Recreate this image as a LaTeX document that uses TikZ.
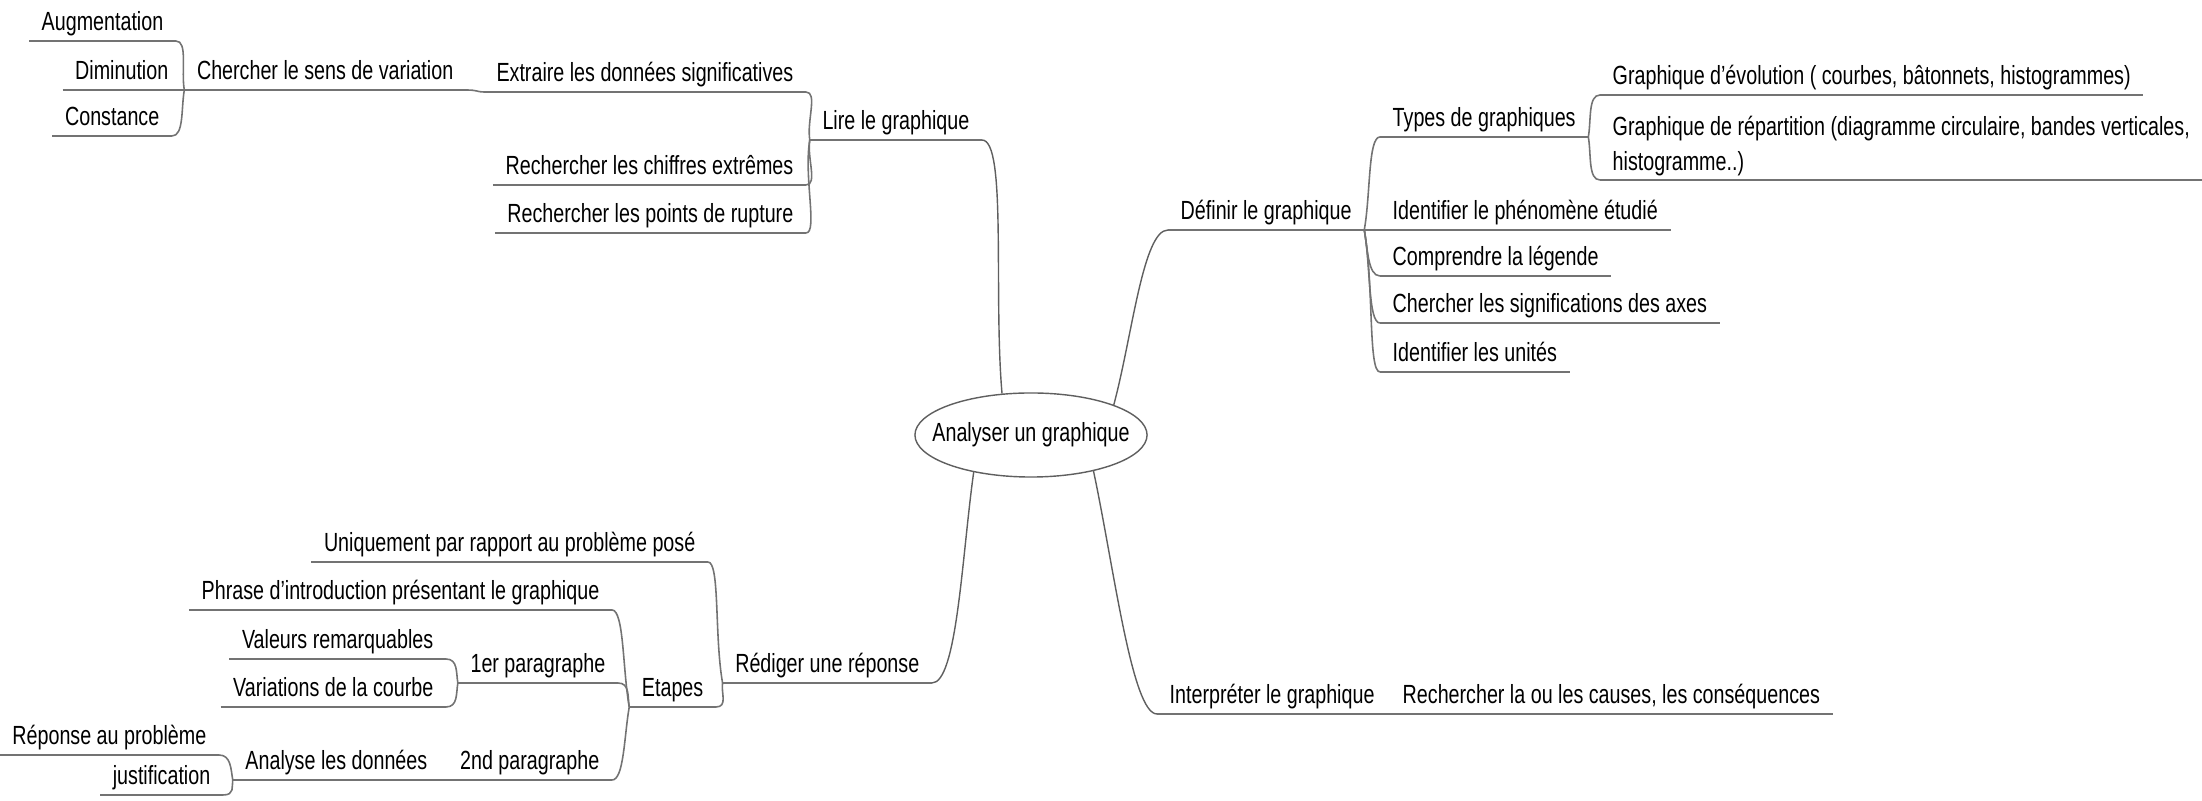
\documentclass[tikz,border=0pt]{standalone}
\usepackage{fontspec}
\setmainfont{Liberation Sans}[FakeStretch=0.75]
\usepackage{xcolor}
\usepackage{tikz}
\usetikzlibrary{shapes.geometric, calc}
\definecolor{lineColor}{RGB}{115,115,115}
\definecolor{linkColor}{RGB}{95,95,95}
\tikzset{
    maptext/.style={
        font=\fontsize{7.47pt}{9.96pt}\selectfont,
        inner xsep=0.12cm,
        inner ysep=0.03cm
    },
    mapnode/.style={
        maptext,
        text height=0.19cm,
        text depth=0.07cm
    },
    rootnode/.style={
        ellipse,
        draw=linkColor,
        fill=white,
        font=\fontsize{7.47pt}{9.96pt}\selectfont,
        minimum width=2.32cm,
        minimum height=0.84cm,
        inner sep=0pt
    },
    uline/.style={
        draw=lineColor,
        line width=0.6pt
    },
    link/.style={
        draw=lineColor,
        line width=0.45pt,
        in distance=0.12cm
    },
    mainlink/.style={
        draw=linkColor,
        line width=0.4pt,
        in distance=0.25cm
    }
}

\begin{document}
\begin{tikzpicture}[x=0.01cm, y=0.01cm]
    \useasboundingbox (0,0) rectangle (2202,-801);
    \node[rootnode] (root) at (1031,-435) {\makebox[0pt]{Analyser un graphique}};

    % left, top
    \node[mapnode, anchor=south east] (lire) at (982,-140) {Lire le graphique};
    \node[mapnode, anchor=south east] (extr) at (806,-92) {Extraire les données significatives};
    \node[mapnode, anchor=south east] (chiffres) at (806,-185) {Rechercher les chiffres extrêmes};
    \node[mapnode, anchor=south east] (rupture) at (806,-233) {Rechercher les points de rupture};
    \node[mapnode, anchor=south east] (sens) at (466,-90) {Chercher le sens de variation};
    \node[mapnode, anchor=south east] (augm) at (176,-41) {Augmentation};
    \node[mapnode, anchor=south east] (dimi) at (181,-90) {Diminution};
    \node[mapnode, anchor=south east] (const) at (172,-136) {Constance};

    % right, top
    \node[mapnode, anchor=south west] (defin) at (1168,-230) {Définir le graphique};
    \node[mapnode, anchor=south west] (types) at (1380,-137) {Types de graphiques};
    \node[mapnode, anchor=south west] (evol) at (1600,-95) {Graphique d’évolution ( courbes, bâtonnets, histogrammes)};
    \node[maptext, anchor=south west, align=left] (repart) at (1600,-180) {Graphique de répartition (diagramme circulaire, bandes verticales,\\histogramme..)};
    \node[mapnode, anchor=south west] (phenom) at (1380,-230) {Identifier le phénomène étudié};
    \node[mapnode, anchor=south west] (legende) at (1380,-276) {Comprendre la légende};
    \node[mapnode, anchor=south west] (axes) at (1380,-323) {Chercher les significations des axes};
    \node[mapnode, anchor=south west] (unites) at (1380,-372) {Identifier les unités};

    % right, bottom
    \node[mapnode, anchor=south west] (interp) at (1157,-714) {Interpréter le graphique};
    \node[mapnode, anchor=south west] (causes) at (1390,-714) {Rechercher la ou les causes, les conséquences};

    % left, bottom
    \node[mapnode, anchor=south east] (rediger) at (932,-683) {Rédiger une réponse};
    \node[mapnode, anchor=south east] (uniq) at (708,-562) {Uniquement par rapport au problème posé};
    \node[mapnode, anchor=south east] (etapes) at (716,-707) {Etapes};
    \node[mapnode, anchor=south east] (intro) at (612,-610) {Phrase d’introduction présentant le graphique};
    \node[mapnode, anchor=south east] (para1) at (618,-683) {1er paragraphe};
    \node[mapnode, anchor=south east] (para2) at (612,-780) {2nd paragraphe};
    \node[mapnode, anchor=south east] (valeurs) at (446,-659) {Valeurs remarquables};
    \node[mapnode, anchor=south east] (variations) at (446,-707) {Variations de la courbe};
    \node[mapnode, anchor=south east] (analyse) at (440,-780) {Analyse les données};
    \node[mapnode, anchor=south east] (reponse) at (219,-755) {Réponse au problème};
    \node[mapnode, anchor=south east] (justif) at (223,-795) {justification};

    % underlines
    \foreach \n in {lire, extr, chiffres, rupture, sens, augm, dimi, const,
        defin, types, evol, phenom, legende, axes, unites, interp, causes,
        rediger, uniq, etapes, intro, para1, para2, valeurs, variations,
        analyse, reponse, justif}
        \draw[uline] (\n.south west) -- (\n.south east);
    \draw[uline] (repart.south west) -- ++(602,0);

    % main branches
    \draw[mainlink] (root.125) to[out=95, in=0] (lire.south east);
    \draw[mainlink] (root.20) to[out=75, in=180] (defin.south west);
    \draw[mainlink] (root.213) to[out=262, in=0] (rediger.south east);
    \draw[mainlink] (root.330) to[out=282, in=180] (interp.south west);

    % Lire le graphique
    \draw[link] (lire.south west) to[out=100, in=0] (extr.south east);
    \draw[link] (lire.south west) to[out=-100, in=0] (chiffres.south east);
    \draw[link] (lire.south west) to[out=-100, in=0] (rupture.south east);
    \draw[link] (extr.south west) to[out=180, in=0] (sens.south east);
    \draw[link] (sens.south west) to[out=100, in=0] (augm.south east);
    \draw[uline] (sens.south west) -- (dimi.south east);
    \draw[link] (sens.south west) to[out=-100, in=0] (const.south east);

    % Définir le graphique
    \draw[link] (defin.south east) to[out=80, in=180] (types.south west);
    \draw[uline] (defin.south east) -- (phenom.south west);
    \draw[link] (defin.south east) to[out=-80, in=180] (legende.south west);
    \draw[link] (defin.south east) to[out=-80, in=180] (axes.south west);
    \draw[link] (defin.south east) to[out=-80, in=180] (unites.south west);
    \draw[link] (types.south east) to[out=80, in=180] (evol.south west);
    \draw[link] (types.south east) to[out=-80, in=180] (repart.south west);

    % Interpréter le graphique
    \draw[uline] (interp.south east) -- (causes.south west);

    % Rédiger une réponse
    \draw[link] (rediger.south west) to[out=100, in=0] (uniq.south east);
    \draw[link] (rediger.south west) to[out=-100, in=0] (etapes.south east);
    \draw[link] (etapes.south west) to[out=100, in=0] (intro.south east);
    \draw[link] (etapes.south west) to[out=100, in=0] (para1.south east);
    \draw[link] (etapes.south west) to[out=-100, in=0] (para2.south east);
    \draw[link] (para1.south west) to[out=100, in=0] (valeurs.south east);
    \draw[link] (para1.south west) to[out=-100, in=0] (variations.south east);
    \draw[uline] (para2.south west) -- (analyse.south east);
    \draw[link] (analyse.south west) to[out=100, in=0] (reponse.south east);
    \draw[link] (analyse.south west) to[out=-100, in=0] (justif.south east);
\end{tikzpicture}
\end{document}
